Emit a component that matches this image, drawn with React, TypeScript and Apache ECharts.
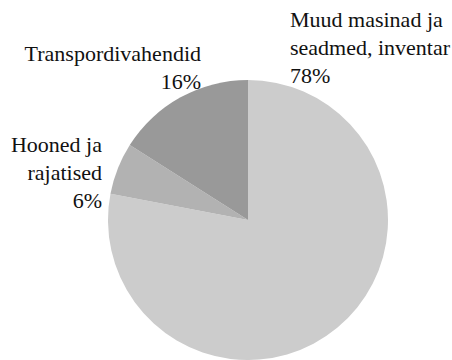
import React, { useEffect, useRef } from "react";
import * as echarts from "echarts";

const categories = ["Muud masinad ja\nseadmed, inventar", "Hooned ja\nrajatised", "Transpordivahendid"];
const shares = [78, 6, 16];
const colors = ["#cccccc", "#b2b2b2", "#999999"];

// label anchor positions (layout only)
const labelPos = [
  { x: 290, y: 5, align: "left" },
  { x: 102, y: 130, align: "right" },
  { x: 201, y: 39, align: "right" },
];

const SERIF = "'Times New Roman', Times, serif";

export default function App() {
  const ref = useRef<HTMLDivElement>(null);
  useEffect(() => {
    if (!ref.current) return;
    const chart = echarts.init(ref.current, undefined, { renderer: "svg" });
    chart.setOption({
      animation: false,
      backgroundColor: "#ffffff",
      series: [
        {
          type: "pie",
          center: [248, 220],
          radius: 140,
          startAngle: 90,
          clockwise: true,
          avoidLabelOverlap: false,
          data: categories.map((c, i) => ({
            name: c,
            value: shares[i],
            itemStyle: { color: colors[i] },
          })),
          label: {
            show: true,
            position: "outside",
            formatter: (p: any) =>
              [...String(p.name).split("\n"), p.value + "%"]
                .map((l: string) => "{t|" + l + "}")
                .join("\n"),
            rich: {
              t: {
                fontFamily: SERIF,
                fontSize: 22,
                lineHeight: 28,
                color: "#111111",
              },
            },
          },
          labelLine: { show: false },
          labelLayout: (params: any) => {
            const p = labelPos[params.dataIndex];
            return { x: p.x, y: p.y, align: p.align, verticalAlign: "top" };
          },
          emphasis: { disabled: true },
        },
      ],
    });
    return () => chart.dispose();
  }, []);
  return (
    <div
      ref={ref}
      style={{ position: "fixed", left: 0, top: 0, width: 452, height: 360 }}
    />
  );
}
